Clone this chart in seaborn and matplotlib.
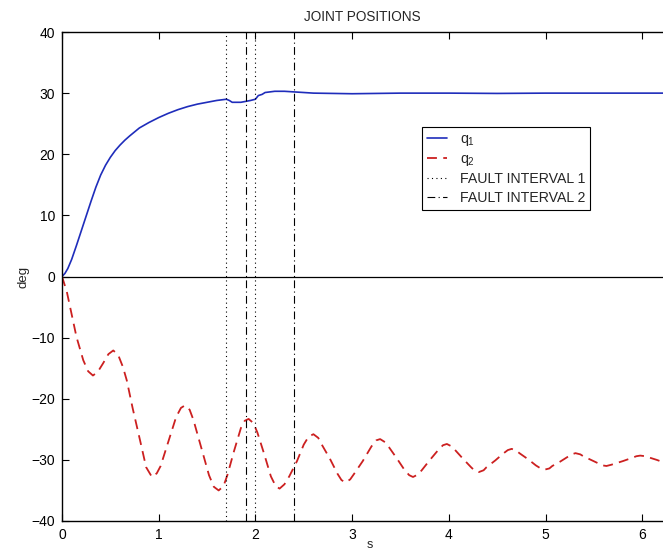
import numpy as np
import pandas as pd
import matplotlib
matplotlib.use("Agg")
import matplotlib.pyplot as plt
import seaborn as sns

# joint 1 trajectory (deg)
t_q1 = [0, 0.03, 0.06, 0.1, 0.15, 0.2, 0.25, 0.3, 0.35, 0.4, 0.45, 0.5, 0.55, 0.6,
        0.65, 0.7, 0.8, 0.9, 1.0, 1.1, 1.2, 1.3, 1.4, 1.5, 1.6, 1.7, 1.73, 1.76,
        1.85, 1.95, 2.0, 2.03, 2.07, 2.1, 2.2, 2.3, 2.4, 2.6, 3.0, 3.5, 4.0,
        4.5, 5.0, 5.5, 6.0, 6.28]
q1 = [0, 0.5, 1.3, 2.8, 5.1, 7.5, 9.9, 12.3, 14.6, 16.6, 18.2, 19.5, 20.6, 21.5,
      22.3, 23.0, 24.3, 25.2, 26.0, 26.7, 27.3, 27.8, 28.2, 28.5, 28.8, 29.0, 28.8,
      28.5, 28.5, 28.8, 29.0, 29.6, 29.8, 30.1, 30.3, 30.3, 30.2, 30.0, 29.9,
      30.0, 30.0, 29.95, 30.0, 30.0, 30.0, 30.0]

# joint 2 trajectory (deg)
t_q2 = [0, 0.05, 0.1, 0.15, 0.22, 0.27, 0.32, 0.37, 0.425, 0.48, 0.53, 0.58,
        0.63, 0.67, 0.73, 0.81, 0.87, 0.93, 0.98, 1.02, 1.1, 1.18, 1.23, 1.27,
        1.32, 1.36, 1.44, 1.52, 1.57, 1.62, 1.67, 1.71, 1.78, 1.85, 1.89, 1.93,
        1.98, 2.02, 2.09, 2.16, 2.21, 2.25, 2.30, 2.35, 2.43, 2.50, 2.55, 2.60,
        2.65, 2.69, 2.77, 2.85, 2.89, 2.93, 2.98, 3.02, 3.11, 3.20, 3.25, 3.29,
        3.34, 3.38, 3.46, 3.54, 3.59, 3.63, 3.68, 3.72, 3.80, 3.89, 3.94, 3.98,
        4.03, 4.06, 4.14, 4.23, 4.27, 4.31, 4.36, 4.39, 4.48, 4.56, 4.61, 4.65,
        4.70, 4.73, 4.82, 4.90, 4.95, 4.99, 5.04, 5.07, 5.15, 5.23, 5.27, 5.31,
        5.36, 5.39, 5.47, 5.55, 5.59, 5.63, 5.68, 5.72, 5.80, 5.89, 5.94, 5.98,
        6.03, 6.07, 6.15, 6.22, 6.28]
q2 = [0, -2.5, -6.2, -9.9, -13.7, -15.5, -16.2, -15.6, -14.2, -12.7, -12.1, -12.8,
      -14.8, -17.0, -21.5, -27.0, -31.2, -32.8, -32.2, -31.0, -27.0, -23.0, -21.5, -21.1,
      -21.8, -23.5, -28.0, -32.5, -34.4, -35.0, -34.3, -32.5, -28.5, -24.8, -23.6, -23.3,
      -24.0, -25.5, -29.0, -32.7, -34.3, -34.7, -34.0, -32.7, -30.2, -27.5, -26.2, -25.8,
      -26.4, -27.6, -29.8, -32.3, -33.3, -33.7, -33.2, -32.3, -30.2, -27.8, -26.8, -26.6,
      -27.1, -27.9, -29.7, -31.6, -32.5, -32.8, -32.4, -31.7, -30.1, -28.4, -27.6, -27.4,
      -27.8, -28.3, -29.7, -31.2, -31.8, -32.0, -31.7, -31.2, -30.1, -29.0, -28.4, -28.2,
      -28.5, -28.9, -29.9, -30.9, -31.4, -31.6, -31.4, -31.0, -30.3, -29.5, -29.1, -28.9,
      -29.1, -29.4, -30.0, -30.6, -30.9, -31.0, -30.8, -30.6, -30.2, -29.7, -29.4, -29.3,
      -29.4, -29.6, -30.0, -30.4, -30.7]

fault1 = [1.7, 2.0]
fault2 = [1.9, 2.4]

df1 = pd.DataFrame({"t": t_q1, "q": q1})
df2 = pd.DataFrame({"t": t_q2, "q": q2})

sns.set_style("ticks")
plt.rcParams['font.family'] = ['Liberation Sans', 'DejaVu Sans']
plt.rcParams['mathtext.fontset'] = 'custom'
plt.rcParams['mathtext.rm'] = 'Liberation Sans'
plt.rcParams['mathtext.it'] = 'Liberation Sans'
plt.rcParams['font.size'] = 10

fig = plt.figure(figsize=(6.63, 5.51), dpi=100)
ax = fig.add_axes([62 / 663, 30 / 551, 601 / 663, 489 / 551])

sns.lineplot(data=df1, x="t", y="q", ax=ax, color="#1f2dbb", lw=1.2, label="q$_1$")
sns.lineplot(data=df2, x="t", y="q", ax=ax, color="#cc2020", lw=1.3,
             linestyle=(0, (5.5, 3.5)), label="q$_2$")

ax.axhline(0, color="black", lw=0.9, zorder=1)
for i, x in enumerate(fault1):
    ax.axvline(x, color="black", lw=0.8, linestyle=(0, (1, 3)),
               label="FAULT INTERVAL 1" if i == 0 else None)
for i, x in enumerate(fault2):
    ax.axvline(x, color="black", lw=0.8, linestyle=(0, (7, 3, 1, 3)),
               label="FAULT INTERVAL 2" if i == 0 else None)

ax.set_xlim(0, 6.215)
ax.set_ylim(-40, 40)
ax.set_xticks([0, 1, 2, 3, 4, 5, 6])
ax.set_yticks([-40, -30, -20, -10, 0, 10, 20, 30, 40])
ax.set_yticklabels(["\u221240", "\u221230", "\u221220", "\u221210", "0", "10", "20", "30", "40"])
ax.tick_params(direction="in", length=5, width=0.8, top=True, right=False,
               labelsize=10, pad=5, colors="black")
for s in ["left", "bottom", "top"]:
    ax.spines[s].set_linewidth(1.0)
    ax.spines[s].set_color("black")
ax.spines["right"].set_visible(False)

ax.set_title("JOINT POSITIONS", fontsize=9.8, pad=8)
ax.set_xlabel("s", fontsize=9)
ax.xaxis.set_label_coords(0.512, -0.036)
ax.set_ylabel("deg", fontsize=9.5, labelpad=1)

leg = ax.legend(loc="upper left", bbox_to_anchor=(0.599, 0.806), fancybox=False,
                framealpha=1, edgecolor="black", fontsize=10.2, handlelength=1.45,
                borderpad=0.35, labelspacing=0.3, handletextpad=0.85, borderaxespad=0)
leg.get_frame().set_linewidth(0.8)

fig.savefig("out.png", dpi=100)
